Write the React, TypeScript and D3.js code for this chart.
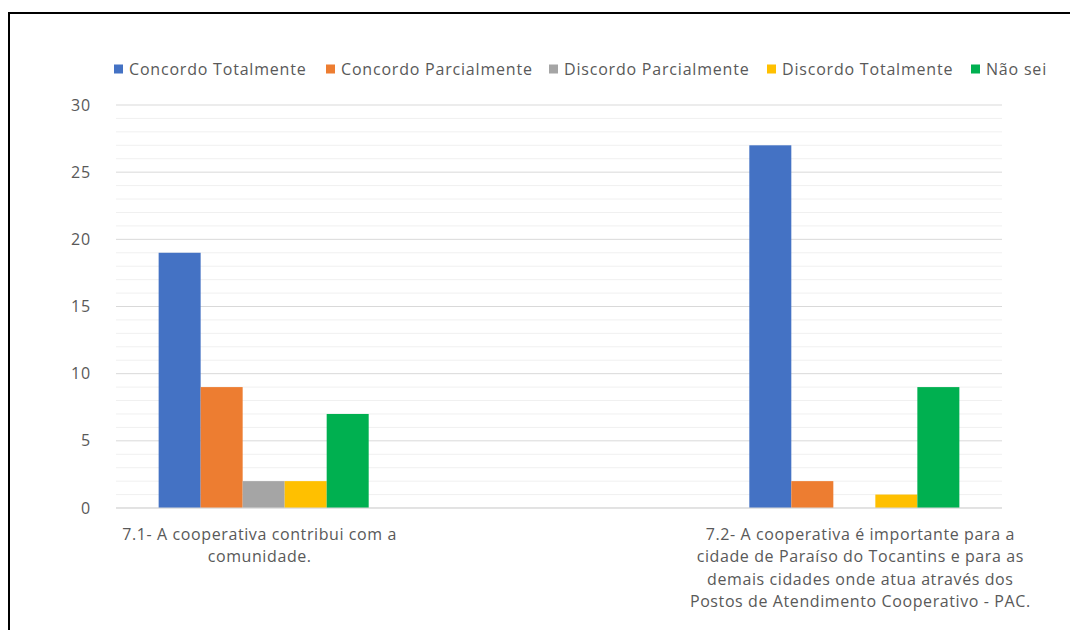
import React from "react";
import * as d3 from "d3";

// Survey answers per statement
const categories = [
  "7.1- A cooperativa contribui com a comunidade.",
  "",
  "7.2- A cooperativa é importante para a cidade de Paraíso do Tocantins e para as demais cidades onde atua através dos Postos de Atendimento Cooperativo - PAC.",
];
const categoryLines: string[][] = [
  ["7.1- A cooperativa contribui com a", "comunidade."],
  [],
  [
    "7.2- A cooperativa é importante para a",
    "cidade de Paraíso do Tocantins e para as",
    "demais cidades onde atua através dos",
    "Postos de Atendimento Cooperativo - PAC.",
  ],
];
const seriesNames = [
  "Concordo Totalmente",
  "Concordo Parcialmente",
  "Discordo Parcialmente",
  "Discordo Totalmente",
  "Não sei",
];
const seriesColors = ["#4472C4", "#ED7D31", "#A5A5A5", "#FFC000", "#00B050"];
const concordoTotalmente = [19, null, 27];
const concordoParcialmente = [9, null, 2];
const discordoParcialmente = [2, null, 0];
const discordoTotalmente = [2, null, 1];
const naoSei = [7, null, 9];
const seriesValues = [
  concordoTotalmente,
  concordoParcialmente,
  discordoParcialmente,
  discordoTotalmente,
  naoSei,
];
const yTicks = [0, 5, 10, 15, 20, 25, 30];

const W = 1070;
const H = 630;
const FONT = "'Open Sans', 'Noto Sans', sans-serif";
const TEXT = "#595959";

export default function App() {
  const left = 116;
  const right = 1002;
  const top = 105;
  const bottom = 508;

  const y = d3.scaleLinear().domain([0, 30]).range([bottom, top]);
  const x0 = d3.scaleBand<number>().domain(d3.range(categories.length)).range([left, right]).padding(0);
  const x1 = d3
    .scaleBand<number>()
    .domain(d3.range(seriesNames.length))
    .range([0, x0.bandwidth()])
    .paddingInner(0)
    .paddingOuter(1.015);

  const minor = d3.range(0, 31, 1);

  // legend layout: square, gap, label
  const legendFont = 16;
  const legendSpacing = 0.8;
  const legendStarts = [114, 326, 549, 767, 971];

  return (
    <svg
      width={W}
      height={H}
      style={{ position: "absolute", left: 0, top: 0, background: "#fff" }}
      fontFamily={FONT}
    >
      <rect x={0} y={0} width={W} height={H} fill="#fff" />
      {/* frame */}
      <path d={`M9,${H} V13 H${W}`} fill="none" stroke="#000" strokeWidth={2} />

      {/* gridlines */}
      {minor.map((v) =>
        v % 5 === 0 ? null : (
          <line key={"m" + v} x1={left} x2={right} y1={y(v)} y2={y(v)} stroke="#f0f0f0" strokeWidth={1} />
        )
      )}
      {yTicks.map((v) => (
        <line key={"M" + v} x1={left} x2={right} y1={y(v)} y2={y(v)} stroke="#d9d9d9" strokeWidth={1} />
      ))}

      {/* y tick labels */}
      {yTicks.map((v) => (
        <text key={"t" + v} x={91} y={y(v)} dy="0.35em" textAnchor="end" fontSize={16} letterSpacing={0.8} fill={TEXT}>
          {v}
        </text>
      ))}

      {/* bars */}
      {categories.map((c, ci) =>
        seriesValues.map((vals, si) => {
          const v = vals[ci];
          if (v === null || v === undefined || v === 0) return null;
          return (
            <rect
              key={`b${ci}-${si}`}
              x={(x0(ci) as number) + (x1(si) as number)}
              y={y(v)}
              width={x1.bandwidth()}
              height={y(0) - y(v)}
              fill={seriesColors[si]}
            />
          );
        })
      )}

      {/* baseline */}
      <line x1={left} x2={right} y1={y(0)} y2={y(0)} stroke="#d9d9d9" strokeWidth={1} />

      {/* category labels */}
      {categoryLines.map((lines, ci) =>
        lines.map((ln, li) => (
          <text
            key={`c${ci}-${li}`}
            x={(x0(ci) as number) + x0.bandwidth() / 2 + (ci === 2 ? 6 : -4)}
            y={534 + li * 22.5}
            dy="0.35em"
            textAnchor="middle"
            fontSize={16}
            letterSpacing={0.6}
            fill={TEXT}
          >
            {ln}
          </text>
        ))
      )}

      {/* legend */}
      {seriesNames.map((n, i) => (
        <g key={"l" + i} transform={`translate(${legendStarts[i]},69)`}>
          <rect x={0} y={-4.5} width={9} height={9} fill={seriesColors[i]} />
          <text x={15} y={0} dy="0.35em" fontSize={legendFont} letterSpacing={legendSpacing} fill={TEXT}>
            {n}
          </text>
        </g>
      ))}
    </svg>
  );
}
